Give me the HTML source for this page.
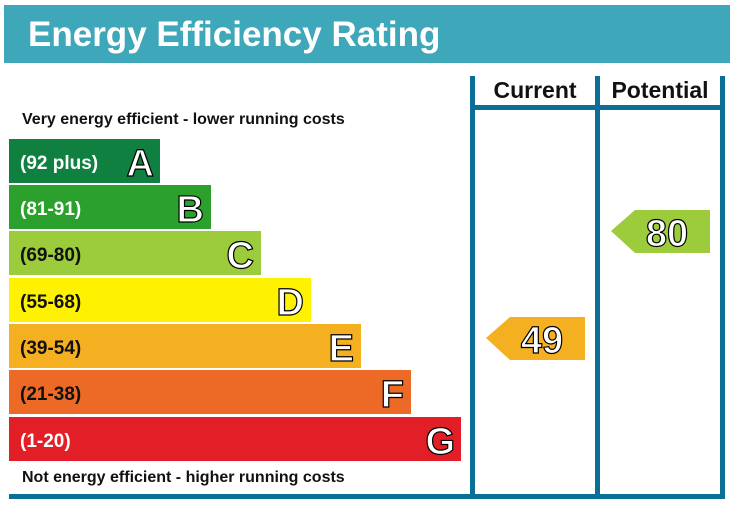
<html><body style="margin:0;background:#fff">
<svg width="730" height="506" xmlns="http://www.w3.org/2000/svg" font-family="Liberation Sans, Arial, sans-serif">
<rect x="4" y="5" width="726" height="58" fill="#3fa7ba"/>
<text x="28" y="46" font-size="35" font-weight="bold" fill="#fff">Energy Efficiency Rating</text>
<g fill="#0a6f96">
<rect x="470" y="76" width="5" height="423"/>
<rect x="595" y="76" width="5" height="423"/>
<rect x="720" y="76" width="5" height="423"/>
<rect x="470" y="105" width="255" height="5"/>
<rect x="9" y="494" width="716" height="5"/>
</g>
<text x="535" y="98" font-size="23" font-weight="bold" text-anchor="middle" fill="#111">Current</text>
<text x="660" y="98" font-size="23" font-weight="bold" text-anchor="middle" fill="#111">Potential</text>
<text x="22" y="124" font-size="16" font-weight="bold" fill="#111">Very energy efficient - lower running costs</text>
<text x="22" y="482" font-size="16" font-weight="bold" fill="#111">Not energy efficient - higher running costs</text>
<g font-weight="bold">
<rect x="9" y="139" width="151" height="44" fill="#0f8040"/>
<text x="20" y="169" font-size="19" fill="#fff">(92 plus)</text>
<rect x="9" y="185" width="202" height="44" fill="#2ca02c"/>
<text x="20" y="215" font-size="19" fill="#fff">(81-91)</text>
<rect x="9" y="231" width="252" height="44" fill="#9ccb3b"/>
<text x="20" y="261" font-size="19" fill="#111">(69-80)</text>
<rect x="9" y="278" width="302" height="44" fill="#fef200"/>
<text x="20" y="308" font-size="19" fill="#111">(55-68)</text>
<rect x="9" y="324" width="352" height="44" fill="#f5b021"/>
<text x="20" y="354" font-size="19" fill="#111">(39-54)</text>
<rect x="9" y="370" width="402" height="44" fill="#ec6a25"/>
<text x="20" y="400" font-size="19" fill="#111">(21-38)</text>
<rect x="9" y="417" width="452" height="44" fill="#e21f26"/>
<text x="20" y="447" font-size="19" fill="#fff">(1-20)</text>
</g>
<g font-size="38" font-weight="bold" fill="#fff" stroke="#000" stroke-width="1.2" text-anchor="end">
<text x="154" y="176">A</text>
<text x="204" y="222">B</text>
<text x="254" y="268">C</text>
<text x="304" y="315">D</text>
<text x="354" y="361">E</text>
<text x="404" y="407">F</text>
<text x="455" y="454">G</text>
</g>
<polygon points="486,338 510,317 585,317 585,360 510,360" fill="#f5b021"/>
<polygon points="611,231 635,210 710,210 710,253 635,253" fill="#9ccb3b"/>
<g font-size="38" font-weight="bold" fill="#fff" stroke="#000" stroke-width="1.2" text-anchor="middle">
<text x="542" y="353">49</text>
<text x="667" y="246">80</text>
</g>
</svg>
</body></html>
